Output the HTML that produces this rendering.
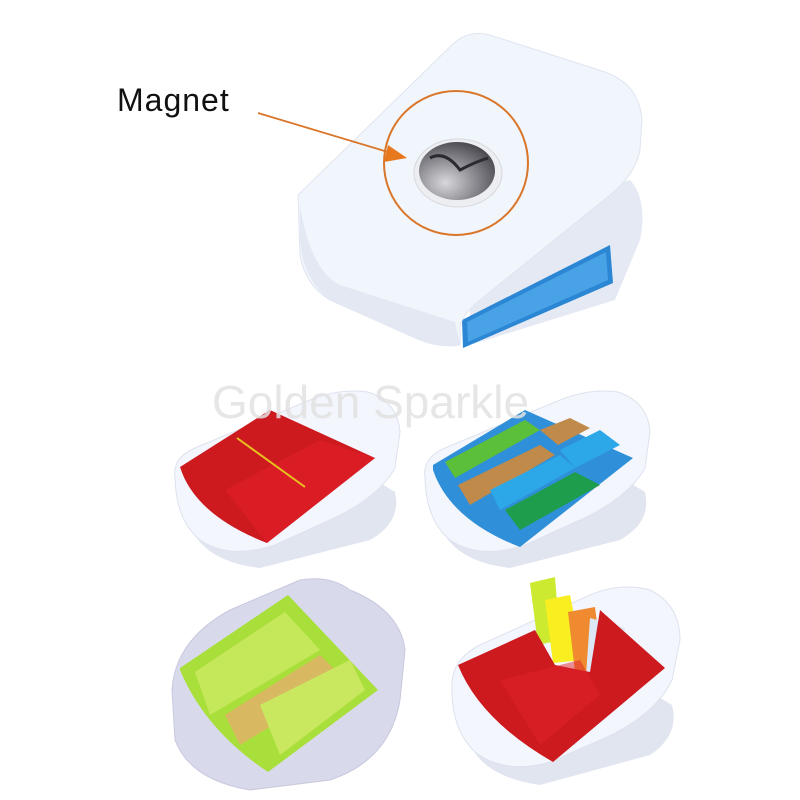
<!DOCTYPE html>
<html><head><style>html,body{margin:0;padding:0;background:#fff}svg{display:block}</style></head>
<body>
<svg width="800" height="800" viewBox="0 0 800 800" xmlns="http://www.w3.org/2000/svg">
<defs>
<radialGradient id="mg" cx="0.35" cy="0.7" r="0.8"><stop offset="0" stop-color="#d8d8dc"/><stop offset="0.5" stop-color="#8a8a90"/><stop offset="1" stop-color="#3e3e44"/></radialGradient>
</defs>
<rect width="800" height="800" fill="#fff"/>
<!-- top clip: lower jaw -->
<path d="M560,200 L630,180 Q648,200 640,240 L615,300 L470,345 L470,290 Z" fill="#e4e9f4"/>
<path d="M462,320 L610,245 L613,283 L463,348 Z" fill="#2b86d4"/>
<path d="M467,322 L606,252 L608,280 L468,342 Z" fill="#4aa2e6"/>
<!-- top clip: upper body -->
<path d="M298,195 L455,42 Q470,30 490,35 L605,72 Q640,85 642,120 L640,150 Q635,175 610,195 L480,300 Q465,312 460,325 L460,345 Q440,348 420,340 L330,300 Q305,285 300,255 Z" fill="#f1f5fc" stroke="#dfe5f0"/>
<path d="M300,205 Q310,270 340,285 L455,322 L460,345 Q440,348 420,340 L330,300 Q303,280 300,240 Z" fill="#e3e8f3"/>
<circle cx="456" cy="163" r="72" fill="none" stroke="#d9762a" stroke-width="2"/>
<ellipse cx="458" cy="173" rx="44" ry="34" fill="#eceef2" stroke="#d6d8de"/>
<ellipse cx="457" cy="171" rx="38" ry="29" fill="url(#mg)"/>
<path d="M430,158 Q445,150 460,170 Q475,162 488,158" stroke="#2a2a30" stroke-width="3" fill="none"/>
<line x1="258" y1="113" x2="398" y2="155" stroke="#d9762a" stroke-width="1.8"/>
<polygon points="407,158 388,145 384,162" fill="#e8781e"/>
<text x="117" y="111" font-family="Liberation Sans, sans-serif" font-size="32" letter-spacing="1" fill="#111">Magnet</text>

<!-- clip1 red -->
<g>
<path d="M185,505 Q190,560 260,568 L370,540 Q402,522 395,492 L350,465 Z" fill="#e1e5f0"/>
<path d="M175,478 Q172,458 195,448 L310,400 Q340,388 368,392 Q398,402 400,432 L395,468 Q378,498 330,520 L275,545 Q230,560 200,540 Q176,520 175,478 Z" fill="#f3f6fc" stroke="#dde2ee"/>
<path d="M180,467 L270,410 L375,458 L267,543 Q195,515 180,467 Z" fill="#cc1a1e"/>
<path d="M225,490 L320,440 L375,458 L267,543 Z" fill="#e32028" opacity="0.6"/>
<line x1="237" y1="438" x2="305" y2="487" stroke="#e8c020" stroke-width="2"/>
</g>
<!-- clip2 blue -->
<g>
<path d="M435,505 Q440,560 510,568 L620,540 Q652,522 645,492 L600,465 Z" fill="#e1e5f0"/>
<path d="M425,478 Q422,458 445,448 L560,400 Q590,388 618,392 Q648,402 650,432 L645,468 Q628,498 580,520 L525,545 Q480,560 450,540 Q426,520 425,478 Z" fill="#f3f6fc" stroke="#dde2ee"/>
<path d="M433,465 L525,410 L633,458 L520,547 Q450,520 433,470 Z" fill="#2f8fd8"/>
<path d="M445,462 L525,420 L540,430 L455,478 Z" fill="#5cbf3a"/>
<path d="M540,430 L570,418 L590,428 L558,445 Z" fill="#c08a4a"/>
<path d="M458,485 L540,445 L555,455 L470,505 Z" fill="#c08a4a"/>
<path d="M560,450 L600,430 L620,445 L575,468 Z" fill="#2ca8e8"/>
<path d="M490,490 L560,455 L575,468 L500,510 Z" fill="#2ca8e8"/>
<path d="M505,510 L575,472 L600,485 L520,530 Z" fill="#1e9e4c"/>
</g>
<!-- clip3 green -->
<path d="M172,690 Q175,640 230,610 L300,580 Q330,575 350,590 Q400,610 405,650 L400,700 Q390,760 330,780 L250,790 Q190,780 175,740 Z" fill="#d9d9ec" stroke="#c8c8de"/>
<path d="M180,668 L288,595 L378,690 L268,772 Q205,730 180,670 Z" fill="#a9df3a"/>
<path d="M195,672 L285,612 L320,650 L210,715 Z" fill="#c5e85a"/>
<path d="M225,715 L320,655 L345,680 L240,745 Z" fill="#d8b860"/>
<path d="M260,705 L350,660 L365,690 L280,755 Z" fill="#c9e860"/>

<!-- clip4 red with flags -->
<path d="M465,725 Q470,775 540,785 L650,755 Q680,735 672,705 L630,680 Z" fill="#e1e5f0"/>
<path d="M452,690 Q450,660 480,645 L590,595 Q620,582 650,590 Q680,605 680,640 L672,680 Q655,715 605,738 L550,762 Q505,775 475,752 Q452,730 452,690 Z" fill="#f3f6fc" stroke="#dde2ee"/>
<polygon points="530,583 555,577 560,640 538,645" fill="#ccea30"/>
<polygon points="545,600 570,595 583,660 553,663" fill="#f8ee20"/>
<polygon points="568,612 595,607 603,670 575,672" fill="#f08a30"/>
<polygon points="590,618 625,628 610,695 585,690" fill="#dce8f6"/>
<path d="M458,665 L535,630 L555,665 L590,672 L600,610 L665,668 L553,762 Q480,720 458,665 Z" fill="#cc1a1e"/>
<path d="M500,680 L580,660 L600,695 L540,745 Z" fill="#e0222a" opacity="0.5"/>

<!-- watermark -->
<text x="212" y="418" font-family="Liberation Sans, sans-serif" font-size="46" fill="#e2e2e2" opacity="0.85">Golden Sparkle</text>
</svg>
</body></html>
